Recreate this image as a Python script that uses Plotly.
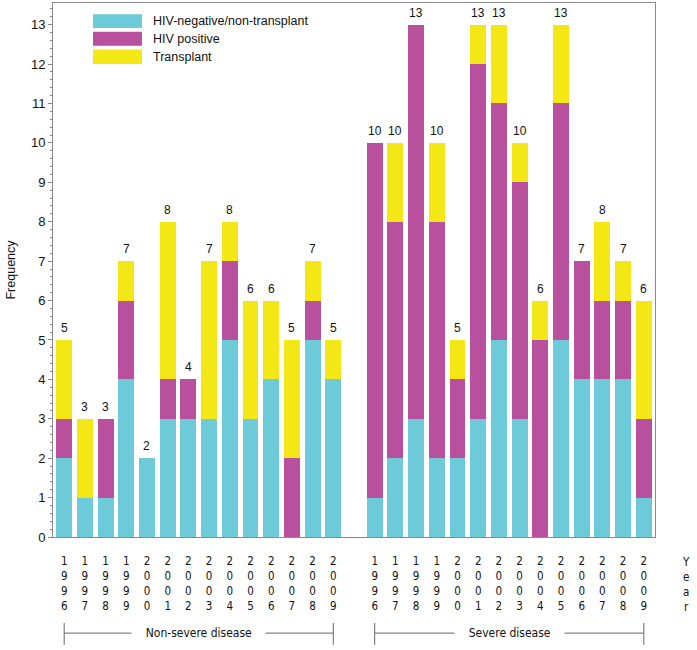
import plotly.graph_objects as go

years = ["1996", "1997", "1998", "1999", "2000", "2001", "2002",
         "2003", "2004", "2005", "2006", "2007", "2008", "2009"]
groups = ["Non-severe disease", "Severe disease"]
series_names = ["HIV-negative/non-transplant", "HIV positive", "Transplant"]

# Non-severe disease
hivneg_nonsevere = [2, 1, 1, 4, 2, 3, 3, 3, 5, 3, 4, 0, 5, 4]
hivpos_nonsevere = [1, 0, 2, 2, 0, 1, 1, 0, 2, 0, 0, 2, 1, 0]
transp_nonsevere = [2, 2, 0, 1, 0, 4, 0, 4, 1, 3, 2, 3, 1, 1]
# Severe disease
hivneg_severe = [1, 2, 3, 2, 2, 3, 5, 3, 0, 5, 4, 4, 4, 1]
hivpos_severe = [9, 6, 10, 6, 2, 9, 6, 6, 5, 6, 3, 2, 2, 2]
transp_severe = [0, 2, 0, 2, 1, 1, 2, 1, 1, 2, 0, 2, 1, 3]

colors = ["#6ccad9", "#b8509e", "#f3e716"]

n = len(years)
pos = list(range(n)) + [n + 1 + i for i in range(n)]
vals = [hivneg_nonsevere + hivneg_severe,
        hivpos_nonsevere + hivpos_severe,
        transp_nonsevere + transp_severe]
totals = [a + b + c for a, b, c in zip(*vals)]

fig = go.Figure()
for name, v, c in zip(series_names, vals, colors):
    fig.add_trace(go.Bar(x=pos, y=v, name=name, marker=dict(color=c, line=dict(width=0)),
                         width=0.77, showlegend=False))

font_main = "Liberation Sans, Arial, sans-serif"
font_narrow = "Liberation Sans Narrow, Arial Narrow, DejaVu Sans Condensed, Liberation Sans, sans-serif"

annotations = []
for p, t in zip(pos, totals):
    annotations.append(dict(x=p, y=t, text=str(t), showarrow=False, yanchor="bottom",
                            yshift=3, font=dict(size=12, color="#111", family=font_main)))

# custom legend
box_y = [(0.979, 0.953), (0.946, 0.920), (0.913, 0.886)]
shapes = []
for (y1, y0), name, c in zip(box_y, series_names, colors):
    shapes.append(dict(type="rect", xref="paper", yref="paper", x0=0.0664, x1=0.1478,
                       y0=y0, y1=y1, fillcolor=c, line=dict(width=0)))
    annotations.append(dict(xref="paper", yref="paper", x=0.163, y=(y0 + y1) / 2,
                            text=name, showarrow=False, xanchor="left", yanchor="middle",
                            font=dict(size=12.5, color="#111", family=font_main)))

# group brackets
yb = -0.18
pad = "&nbsp;" * 4
for gi, g in enumerate(groups):
    x0 = pos[gi * n]
    x1 = pos[gi * n + n - 1]
    shapes.append(dict(type="line", xref="x", yref="paper", x0=x0, x1=x1, y0=yb, y1=yb,
                       line=dict(color="#666", width=1)))
    for xx in (x0, x1):
        shapes.append(dict(type="line", xref="x", yref="paper", x0=xx, x1=xx,
                           y0=yb - 0.022, y1=yb + 0.019, line=dict(color="#666", width=1)))
    annotations.append(dict(xref="x", yref="paper", x=(x0 + x1) / 2, y=yb,
                            text=pad + g + pad,
                            showarrow=False, bgcolor="white", borderpad=0,
                            xanchor="center", yanchor="middle",
                            font=dict(size=12, color="#111", family=font_narrow)))
annotations.append(dict(xref="paper", yref="paper", x=1.052, y=-0.03, text="Y<br>e<br>a<br>r",
                        showarrow=False, xanchor="center", yanchor="top", align="center",
                        font=dict(size=11.5, color="#111", family=font_narrow)))

ticktext = ["<br>".join(list(y)) for y in years] * 2

fig.update_layout(
    barmode="stack",
    width=697, height=650,
    margin=dict(l=53, r=42, t=3, b=113),
    plot_bgcolor="white", paper_bgcolor="white",
    shapes=shapes, annotations=annotations,
    showlegend=False,
    xaxis=dict(range=[-0.54, 28.54], tickvals=pos, ticktext=ticktext, tickangle=0,
               showline=True, linecolor="#8a8a8a", linewidth=1, mirror=True,
               ticks="", showgrid=False, zeroline=False, ticklabelstandoff=13,
               tickfont=dict(size=11.5, color="#111", family=font_narrow)),
    yaxis=dict(range=[0, 13.55], dtick=1, tick0=0, showline=True, linecolor="#8a8a8a",
               linewidth=1, mirror=True, ticks="outside", ticklen=4, tickcolor="#8a8a8a",
               showgrid=False, zeroline=False,
               minor=dict(dtick=0.2, ticks="outside", ticklen=2, tickcolor="#8a8a8a"),
               tickfont=dict(size=13, color="#111", family=font_main),
               title=dict(text="Frequency", standoff=12,
                          font=dict(size=12.5, color="#111", family=font_main))),
    font=dict(family=font_main),
)

fig.write_html("out.html", config={"displayModeBar": False},
               post_script="document.body.style.margin='0';")
